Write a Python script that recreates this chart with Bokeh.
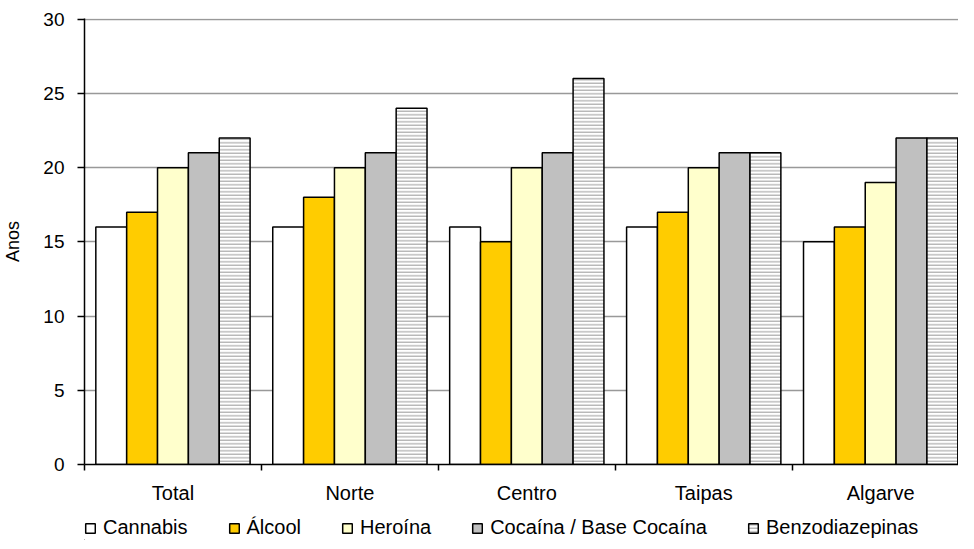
from bokeh.plotting import figure
from bokeh.layouts import column
from bokeh.models import ColumnDataSource, FixedTicker, Legend, LegendItem, Range1d
from bokeh.transform import dodge
from bokeh.embed import file_html
from bokeh.resources import INLINE

categories = ["Total", "Norte", "Centro", "Taipas", "Algarve"]
cannabis = [16, 16, 16, 16, 15]
alcool = [17, 18, 15, 17, 16]
heroina = [20, 20, 20, 20, 19]
cocaina = [21, 21, 21, 21, 22]
benzo = [22, 24, 26, 21, 22]
series_names = ["Cannabis", "Álcool", "Heroína", "Cocaína / Base Cocaína", "Benzodiazepinas"]
series_cols = ["cannabis", "alcool", "heroina", "cocaina", "benzo"]
series_colors = ["#FFFFFF", "#FFCC00", "#FFFFCC", "#C0C0C0", "#FFFFFF"]
y_ticks = [0, 5, 10, 15, 20, 25, 30]

FONT = "Liberation Sans"
centers = [i + 0.5 for i in range(len(categories))]
source = ColumnDataSource(dict(x=centers, cannabis=cannabis, alcool=alcool,
                               heroina=heroina, cocaina=cocaina, benzo=benzo))

p = figure(width=958, height=506, x_range=Range1d(0, 4.94), y_range=Range1d(0, 30.05),
           output_backend="svg", toolbar_location=None,
           min_border_left=78, min_border_right=0, min_border_top=18, min_border_bottom=41)
p.outline_line_color = None
p.background_fill_color = "white"
p.border_fill_color = "white"

w = 0.1744


def style(j, col):
    kw = dict(fill_color=series_colors[j], line_color="black", line_width=1.5)
    if col == "benzo":
        kw.update(hatch_pattern="horizontal_line", hatch_color="#999999",
                  hatch_scale=3.5, hatch_weight=1)
    return kw


for j, col in enumerate(series_cols):
    p.vbar(x=dodge("x", (j - 2) * w, range=p.x_range), top=col, width=w,
           source=source, **style(j, col))

# x axis
xa = p.xaxis[0]
xa.ticker = FixedTicker(ticks=centers, minor_ticks=[0, 1, 2, 3, 4, 5])
xa.major_label_overrides = {c: n for c, n in zip(centers, categories)}
xa.major_tick_line_color = None
xa.minor_tick_line_color = "black"
xa.minor_tick_out = 6
xa.minor_tick_in = 0
xa.minor_tick_line_width = 1.5
xa.axis_line_width = 1.5
xa.major_label_standoff = 11
xa.major_label_text_font = FONT
xa.major_label_text_font_size = "20px"
xa.major_label_text_color = "black"

ya = p.yaxis[0]
ya.ticker = FixedTicker(ticks=y_ticks)
ya.major_tick_out = 7
ya.major_tick_in = 0
ya.major_tick_line_width = 1.5
ya.axis_line_width = 1.5
ya.major_label_standoff = 13
ya.major_label_text_font = FONT
ya.major_label_text_font_size = "19px"
ya.major_label_text_color = "black"
ya.axis_label = "Anos"
ya.axis_label_text_font = FONT
ya.axis_label_text_font_size = "18px"
ya.axis_label_text_font_style = "normal"
ya.axis_label_text_color = "black"
ya.axis_label_standoff = 17

p.xgrid.grid_line_color = None
p.ygrid.ticker = FixedTicker(ticks=y_ticks)
p.ygrid.grid_line_color = "#999999"
p.ygrid.grid_line_width = 1.5

# legend strip (separate figure below the chart; swatches only, no data marks)
lg = figure(width=958, height=34, x_range=Range1d(0, 1), y_range=Range1d(0, 1),
            output_backend="svg", toolbar_location=None,
            x_axis_location=None, y_axis_location=None,
            min_border_left=0, min_border_right=0, min_border_top=0, min_border_bottom=0)
lg.grid.visible = False
lg.outline_line_color = None
swatch = ColumnDataSource(dict(x=[-5.0], top=[0.0]))  # outside visible range
items = []
for j, col in enumerate(series_cols):
    r = lg.vbar(x="x", top="top", width=0.1, source=swatch, **style(j, col))
    items.append(LegendItem(label=series_names[j], renderers=[r]))

legend = Legend(items=items, orientation="horizontal", location=(0, 1),
                border_line_color=None, background_fill_alpha=0,
                glyph_width=12, glyph_height=12, label_standoff=7, spacing=40,
                padding=0, margin=0,
                label_text_font=FONT, label_text_font_size="20px",
                label_text_color="black")
lg.add_layout(legend, "center")

layout = column(p, lg, spacing=0)
open("out.html", "w").write(file_html(layout, INLINE))
